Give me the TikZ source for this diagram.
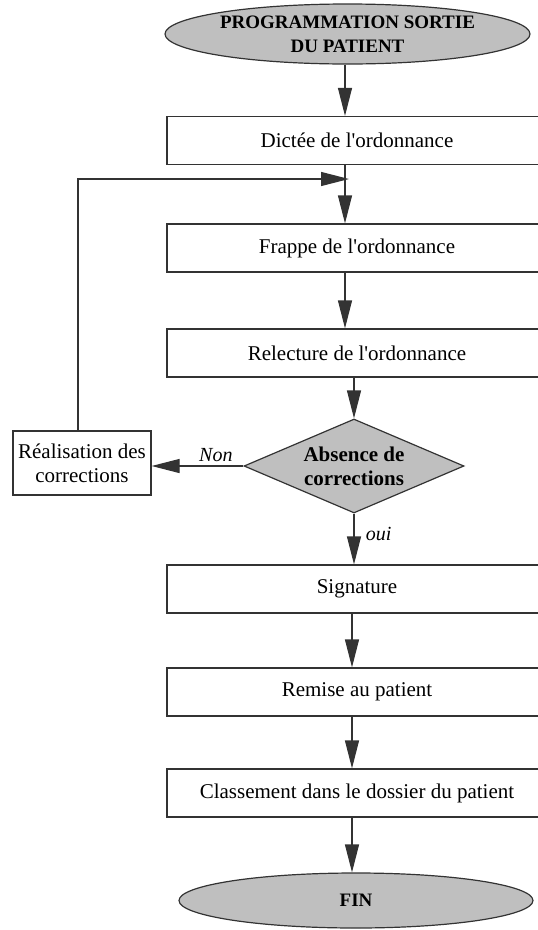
\documentclass[tikz,border=0pt]{standalone}
\usepackage{fontspec}
\setmainfont{Liberation Serif}
\usetikzlibrary{arrows.meta}
\usetikzlibrary{positioning}
\usetikzlibrary{shapes.geometric}

\begin{document}
\begin{tikzpicture}[x=1pt, y=-1pt,
					arrow/.style={line width=1.2pt, draw=black!80, -{Triangle[length=28pt, width=14pt]}},
					box/.style={draw=black!80, line width=1.2pt, minimum width=380pt, minimum height=48pt, inner sep=0pt, font=\fontsize{21}{24}\selectfont},
					term/.style={ellipse, draw=black!80, line width=1.2pt, fill=lightgray, inner sep=0pt, align=center, font=\bfseries\fontsize{19}{24}\selectfont},
					test/.style={diamond, draw=black!80, line width=1.2pt, fill=lightgray, inner sep=0pt, aspect=2.3, minimum width=220pt, minimum height=94pt, align=center, font=\bfseries\fontsize{21}{24}\selectfont},
					lbl/.style={font=\itshape\fontsize{20}{24}\selectfont},
				]
			        \clip (0,0) rectangle (538,930);

			        \coordinate (colA) at (345,0);
			        \coordinate (colB) at (352,0);
			        \coordinate (loop) at (78,179);
			        \coordinate (join) at (349,179);

			        \node[term, minimum width=365pt, minimum height=60pt] (start) at (347.5,34) {PROGRAMMATION SORTIE\\DU PATIENT};
			        \node[box] (dictee) at (357,140.5) {Dictée de l\textquotesingle ordonnance};
			        \node[box] (frappe) at (357,248) {Frappe de l\textquotesingle ordonnance};
			        \node[box] (relect) at (357,353) {Relecture de l\textquotesingle ordonnance};
			        \node[test] (absence) at (354,466) {Absence de\\corrections};
			        \node[box, minimum width=138pt, minimum height=64pt, align=center] (real) at (82,463) {Réalisation des\\corrections};
			        \node[box] (sign) at (357,589) {Signature};
			        \node[box] (remise) at (357,692) {Remise au patient};
			        \node[box] (classe) at (357,793) {Classement dans le dossier du patient};
			        \node[term, minimum width=354pt, minimum height=55pt] (fin) at (356,900.5) {FIN};

			        \draw[arrow] (start.south -| colA) -- (dictee.north -| colA);
			        \draw[arrow] (dictee.south -| colA) -- (frappe.north -| colA);
			        \draw[arrow] (frappe.south -| colA) -- (relect.north -| colA);
			        \draw[arrow] (relect.south -| absence.north) -- (absence.north);
			        \draw[arrow] (absence.west) -- (absence.west -| real.east) node[lbl, pos=0.3, above] {Non};
			        \draw[arrow] (absence.south) -- (sign.north -| absence.south) node[lbl, pos=0.4, right=8pt] {oui};
			        \draw[arrow] (sign.south -| colB) -- (remise.north -| colB);
			        \draw[arrow] (remise.south -| colB) -- (classe.north -| colB);
			        \draw[arrow] (classe.south -| colB) -- (fin.north -| colB);
			        \draw[arrow] (real.north -| loop) |- (join);
			    \end{tikzpicture}
\end{document}
